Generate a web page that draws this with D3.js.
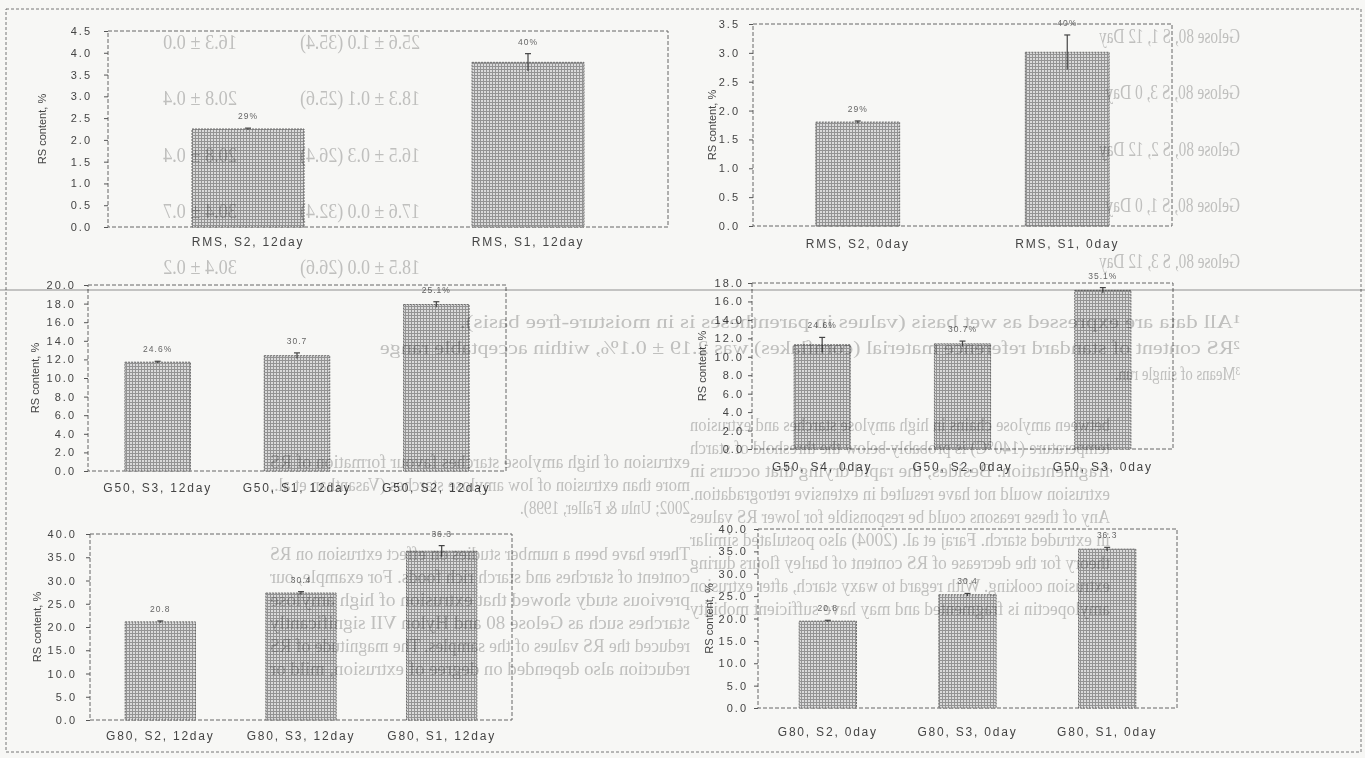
<!DOCTYPE html>
<html>
<head>
<meta charset="utf-8">
<script src="https://cdn.jsdelivr.net/npm/d3@7"></script>
<style>
  html, body { margin: 0; padding: 0; background: #f7f7f5; }
  svg { display: block; }
</style>
</head>
<body>
<svg id="fig" width="1365" height="758"></svg>
<script>
// ---- RS content data, one set of arrays per panel ----
const rms12Cats  = ["RMS, S2, 12day", "RMS, S1, 12day"];
const rms12Vals  = [2.25, 3.78];
const rms12Errs  = [0.02, 0.2];
const rms12Notes = ["29%", "40%"];
const rms12Ticks = [0, 0.5, 1.0, 1.5, 2.0, 2.5, 3.0, 3.5, 4.0, 4.5];

const rms0Cats  = ["RMS, S2, 0day", "RMS, S1, 0day"];
const rms0Vals  = [1.80, 3.01];
const rms0Errs  = [0.02, 0.3];
const rms0Notes = ["29%", "40%"];
const rms0Ticks = [0, 0.5, 1.0, 1.5, 2.0, 2.5, 3.0, 3.5];

const g50d12Cats  = ["G50, S3, 12day", "G50, S1, 12day", "G50, S2, 12day"];
const g50d12Vals  = [11.7, 12.4, 17.9];
const g50d12Errs  = [0.1, 0.3, 0.3];
const g50d12Notes = ["24.6%", "30.7", "25.1%"];
const g50d12Ticks = [0, 2, 4, 6, 8, 10, 12, 14, 16, 18, 20];

const g50d0Cats  = ["G50, S4, 0day", "G50, S2, 0day", "G50, S3, 0day"];
const g50d0Vals  = [11.3, 11.4, 17.2];
const g50d0Errs  = [0.8, 0.3, 0.3];
const g50d0Notes = ["24.6%", "30.7%", "35.1%"];
const g50d0Ticks = [0, 2, 4, 6, 8, 10, 12, 14, 16, 18];

const g80d12Cats  = ["G80, S2, 12day", "G80, S3, 12day", "G80, S1, 12day"];
const g80d12Vals  = [21.1, 27.3, 36.3];
const g80d12Errs  = [0.2, 0.3, 1.2];
const g80d12Notes = ["20.8", "30.4", "36.3"];
const g80d12Ticks = [0, 5, 10, 15, 20, 25, 30, 35, 40];

const g80d0Cats  = ["G80, S2, 0day", "G80, S3, 0day", "G80, S1, 0day"];
const g80d0Vals  = [19.4, 25.3, 35.5];
const g80d0Errs  = [0.2, 0.3, 0.4];
const g80d0Notes = ["20.8", "30.4", "36.3"];
const g80d0Ticks = [0, 5, 10, 15, 20, 25, 30, 35, 40];

const yTitle = "RS content, %";

// ---- show-through print from the reverse side of the sheet ----
const tableNames = ["Gelose 80, S 1, 12 Day", "Gelose 80, S 3, 0 Day", "Gelose 80, S 2, 12 Day",
                    "Gelose 80, S 1, 0 Day", "Gelose 80, S 3, 12 Day"];
const tableCol2  = ["25.6 ± 1.0 (35.4)", "18.3 ± 0.1 (25.6)", "16.5 ± 0.3 (26.4)",
                    "17.6 ± 0.0 (32.4)", "18.5 ± 0.0 (26.6)"];
const tableCol3  = ["16.3 ± 0.0", "20.8 ± 0.4", "20.8 ± 0.4", "30.4 ± 0.7", "30.4 ± 0.2"];
const footnotes  = [
  "¹All data are expressed as wet basis (values in parentheses is in moisture-free basis).",
  "²RS content of standard reference material (cornflakes) was 2.19 ± 0.1%, within acceptable range",
  "³Means of single run."
];
const bodyLeftCol = [
  "between amylose chains in high amylose starches and extrusion",
  "temperature (140°C) is probably below the threshold of starch",
  "fragmentation. Besides, the rapid drying that occurs in",
  "extrusion would not have resulted in extensive retrogradation.",
  "Any of these reasons could be responsible for lower RS values",
  "in extruded starch. Faraj et al. (2004) also postulated similar",
  "theory for the decrease of RS content of barley flours during",
  "extrusion cooking. With regard to waxy starch, after extrusion",
  "amylopectin is fragmented and may have sufficient mobility"
];
const bodyRightCol = [
  "extrusion of high amylose starches favour formation of RS",
  "more than extrusion of low amylose starches (Vasanthan et al.,",
  "2002; Unlu & Faller, 1998).",
  "",
  "There have been a number studies on effect extrusion on RS",
  "content of starches and starch rich foods. For example, our",
  "previous study showed that extrusion of high amylose",
  "starches such as Gelose 80 and Hylon VII significantly",
  "reduced the RS values of the samples. The magnitude of RS",
  "reduction also depended on degree of extrusion, mild or"
];

const W = 1365, H = 758;
const svg = d3.select("#fig");

// fine cross-hatch used for the bar fill
const defs = svg.append("defs");
const pat = defs.append("pattern").attr("id", "hatch")
  .attr("patternUnits", "userSpaceOnUse").attr("width", 3).attr("height", 3);
pat.append("rect").attr("width", 3).attr("height", 3).attr("fill", "#dadada");
pat.append("path").attr("d", "M0,0.5H3M0.5,0V3")
  .attr("stroke", "#939393").attr("stroke-width", 1);

// outer dashed frame of the figure
svg.append("rect")
  .attr("x", 6).attr("y", 9).attr("width", 1355).attr("height", 743)
  .attr("fill", "none").attr("stroke", "#777").attr("stroke-width", 1)
  .attr("stroke-dasharray", "3,2");

function drawPanel(cfg, cats, vals, errs, notes, ticks) {
  const g = svg.append("g");
  const x = d3.scaleBand().domain(cats).range([cfg.left, cfg.right])
    .paddingInner(cfg.gap).paddingOuter(cfg.gap / 2);
  const y = d3.scaleLinear().domain([0, cfg.max]).range([cfg.bottom, cfg.top]);
  const cx = c => x(c) + x.bandwidth() / 2;

  // plot frame
  g.append("rect")
    .attr("x", cfg.left).attr("y", cfg.top)
    .attr("width", cfg.right - cfg.left).attr("height", cfg.bottom - cfg.top)
    .attr("fill", "none").attr("stroke", "#666").attr("stroke-width", 1)
    .attr("stroke-dasharray", "4,2");

  const rows = cats.map((c, i) => ({ c, v: vals[i], e: errs[i], n: notes[i] }));

  g.selectAll("rect.bar").data(rows).join("rect").attr("class", "bar")
    .attr("x", d => x(d.c)).attr("width", x.bandwidth())
    .attr("y", d => y(d.v)).attr("height", d => y(0) - y(d.v))
    .attr("fill", "url(#hatch)").attr("stroke", "#6a6a6a")
    .attr("stroke-width", 1).attr("stroke-dasharray", "2,1");

  // error bars
  const eb = g.selectAll("g.err").data(rows).join("g").attr("class", "err")
    .attr("stroke", "#444").attr("stroke-width", 1.2);
  eb.append("line")
    .attr("x1", d => cx(d.c)).attr("x2", d => cx(d.c))
    .attr("y1", d => y(d.v + d.e)).attr("y2", d => y(d.v - d.e));
  eb.append("line")
    .attr("x1", d => cx(d.c) - 3).attr("x2", d => cx(d.c) + 3)
    .attr("y1", d => y(d.v + d.e)).attr("y2", d => y(d.v + d.e));

  // annotations above bars
  g.selectAll("text.note").data(rows).join("text").attr("class", "note")
    .attr("x", d => cx(d.c)).attr("y", d => y(d.v + d.e) - 9)
    .attr("text-anchor", "middle")
    .attr("font-family", "Liberation Sans, Arial, sans-serif")
    .attr("font-size", 8.5).attr("letter-spacing", 1)
    .attr("fill", "#666").text(d => d.n);

  // y axis
  const ax = g.append("g").attr("transform", `translate(${cfg.left},0)`)
    .call(d3.axisLeft(y).tickValues(ticks).tickFormat(d3.format(".1f"))
      .tickSize(4).tickPadding(cfg.pad));
  ax.select(".domain").remove();
  ax.selectAll(".tick line").attr("stroke", "#555");
  ax.selectAll(".tick text")
    .attr("font-family", "Liberation Sans, Arial, sans-serif")
    .attr("font-size", 11).attr("letter-spacing", 2).attr("fill", "#444");

  // category labels
  g.selectAll("text.cat").data(rows).join("text").attr("class", "cat")
    .attr("x", d => cx(d.c)).attr("y", cfg.labelY)
    .attr("text-anchor", "middle").attr("dominant-baseline", "middle")
    .attr("font-family", "Liberation Sans, Arial, sans-serif")
    .attr("font-size", 12).attr("letter-spacing", 1.8).attr("fill", "#444")
    .text(d => d.c);

  // y title
  g.append("text")
    .attr("transform", `translate(${cfg.titleX},${(cfg.top + cfg.bottom) / 2}) rotate(-90)`)
    .attr("text-anchor", "middle").attr("dominant-baseline", "middle")
    .attr("font-family", "Liberation Sans, Arial, sans-serif")
    .attr("font-size", 11).attr("fill", "#444").text(yTitle);
}

drawPanel({ left: 108, right: 668, top: 31, bottom: 227, max: 4.5, gap: 0.6, pad: 12, labelY: 243, titleX: 43 },
  rms12Cats, rms12Vals, rms12Errs, rms12Notes, rms12Ticks);
drawPanel({ left: 753, right: 1172, top: 24, bottom: 226, max: 3.5, gap: 0.6, pad: 9, labelY: 245, titleX: 713 },
  rms0Cats, rms0Vals, rms0Errs, rms0Notes, rms0Ticks);
drawPanel({ left: 88, right: 506, top: 285, bottom: 471, max: 20, gap: 0.53, pad: 8, labelY: 489, titleX: 36 },
  g50d12Cats, g50d12Vals, g50d12Errs, g50d12Notes, g50d12Ticks);
drawPanel({ left: 752, right: 1173, top: 283, bottom: 449, max: 18, gap: 0.6, pad: 4, labelY: 468, titleX: 703 },
  g50d0Cats, g50d0Vals, g50d0Errs, g50d0Notes, g50d0Ticks);
drawPanel({ left: 90, right: 512, top: 534, bottom: 720, max: 40, gap: 0.5, pad: 9, labelY: 737, titleX: 38 },
  g80d12Cats, g80d12Vals, g80d12Errs, g80d12Notes, g80d12Ticks);
drawPanel({ left: 758, right: 1177, top: 529, bottom: 708, max: 40, gap: 0.59, pad: 6, labelY: 733, titleX: 710 },
  g80d0Cats, g80d0Vals, g80d0Errs, g80d0Notes, g80d0Ticks);

// ---- reverse-side print showing through (mirrored) ----
const back = svg.append("g")
  .attr("transform", `translate(${W},0) scale(-1,1)`)
  .style("mix-blend-mode", "multiply")
  .attr("font-family", "Liberation Serif, Times New Roman, serif")
  .attr("fill", "#c6c6c6");

// one line of print: gx = start of the line on the reverse page, len = its printed width
function line(txt, gx, yb, len, size) {
  back.append("text").attr("x", gx).attr("y", yb)
    .attr("font-size", size)
    .attr("textLength", len).attr("lengthAdjust", "spacingAndGlyphs")
    .text(txt);
}

const rowBase = [49, 105, 162, 218, 274];
tableNames.forEach((t, i) => line(t, W - 1240, rowBase[i] - 6, t.length * 6.4, 20));
tableCol2.forEach((t, i) => line(t, W - 420, rowBase[i], 120, 20));
tableCol3.forEach((t, i) => line(t, W - 237, rowBase[i], 74, 20));

back.append("line").attr("x1", 0).attr("x2", W).attr("y1", 290).attr("y2", 290)
  .attr("stroke", "#b8b8b8").attr("stroke-width", 1.5);

const fnLen = [780, 860, 125];
footnotes.forEach((t, i) => line(t, W - 1240, 328 + i * 26, fnLen[i], 19));

function bodyBlock(lines, rightEdge, y0, width) {
  lines.forEach((t, i) => {
    if (!t) return;
    const full = !(t.endsWith(").") && t.length < 40);
    line(t, W - rightEdge, y0 + i * 23, full ? width : t.length * 6.3, 19);
  });
}
bodyBlock(bodyLeftCol, 1110, 431, 420);
bodyBlock(bodyRightCol, 690, 468, 420);
</script>
</body>
</html>
